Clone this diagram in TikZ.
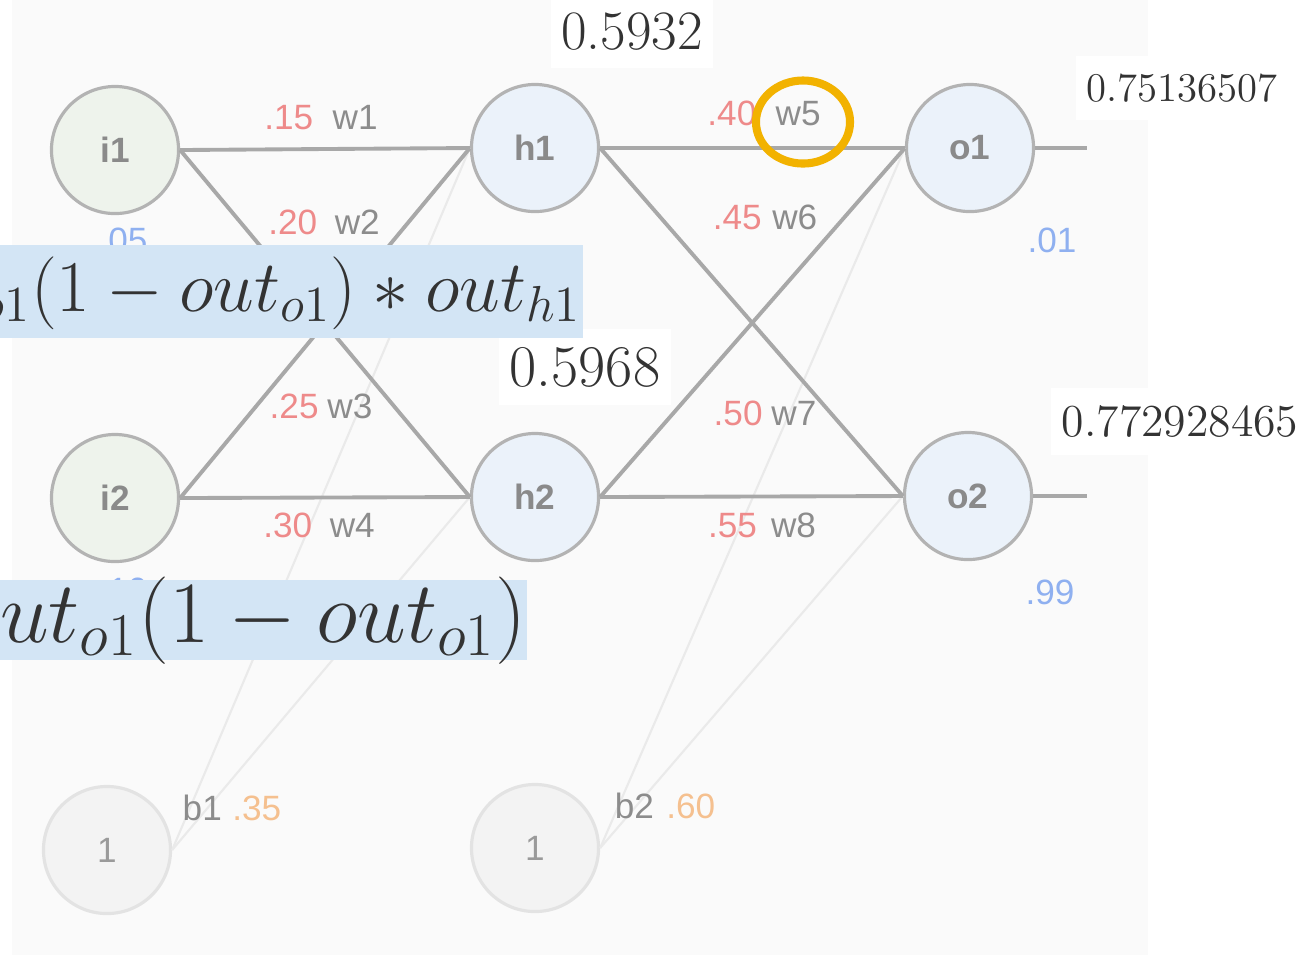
\documentclass[tikz,border=0pt]{standalone}
\usepackage{fontspec}
\newfontfamily\lab{Liberation Sans}
\usetikzlibrary{shapes.geometric}
\definecolor{panel}{HTML}{FAFAFA}
\definecolor{edgec}{HTML}{A8A8A8}
\definecolor{biasedge}{HTML}{EAEAEA}
\definecolor{finp}{HTML}{EEF3EC}
\definecolor{fhid}{HTML}{EBF2FA}
\definecolor{fbias}{HTML}{F3F3F3}
\definecolor{nline}{HTML}{B3B3B3}
\definecolor{bline}{HTML}{E3E3E3}
\definecolor{ntext}{HTML}{8A8A8A}
\definecolor{btext}{HTML}{9A9A9A}
\definecolor{wred}{HTML}{EE8A8A}
\definecolor{wgray}{HTML}{8C8C8C}
\definecolor{tblue}{HTML}{8FB0F0}
\definecolor{borange}{HTML}{F5C08F}
\definecolor{fboxc}{HTML}{D3E5F5}
\definecolor{ftext}{HTML}{333333}
\definecolor{amber}{HTML}{F2B200}
\tikzset{
  neuron/.style={circle, minimum size=1.27cm, inner sep=0pt, line width=0.9pt,
    font=\lab\bfseries\fontsize{10}{12}\selectfont, text=ntext},
  inp/.style={neuron, draw=nline, fill=finp},
  hid/.style={neuron, draw=nline, fill=fhid},
  biasn/.style={neuron, draw=bline, fill=fbias, font=\lab\fontsize{10}{12}\selectfont, text=btext},
  edge/.style={draw=edgec, line width=1.1pt},
  bedge/.style={draw=biasedge, line width=0.6pt},
  wlab/.style={inner sep=0pt, font=\lab\fontsize{10}{12}\selectfont, text=wgray},
  tlab/.style={inner sep=0pt, font=\lab\fontsize{10}{12}\selectfont, text=tblue},
  numlab/.style={fill=white, inner xsep=3pt, inner ysep=5pt, text=black!80},
  fml/.style={inner sep=0pt, text=ftext},
  ring/.style={ellipse, draw=amber, line width=2.3pt, minimum width=0.94cm, minimum height=0.83cm, inner sep=0pt}
}
\begin{document}
\begin{tikzpicture}[x=0.01cm,y=-0.01cm]
\useasboundingbox (0,0) rectangle (1307,959);
\fill[white] (0,0) rectangle (1307,959);
\fill[panel] (12,0) rectangle (1148,955);

% neuron positions
\coordinate (out1) at (1087,148);
\coordinate (out2) at (1087,496);
\path (115,150) node[inp] (i1) {i1}
      (115,498) node[inp] (i2) {i2}
      (535,148) node[hid] (h1) {h1}
      (535,497) node[hid] (h2) {h2}
      (970,148) node[hid] (o1) {o1}
      (968,496) node[hid] (o2) {o2}
      (107,850) node[biasn] (b1) {1}
      (535,848) node[biasn] (b2) {1};

% connectors
\draw[bedge] (b1.east) -- (h1.west);
\draw[bedge] (b1.east) -- (h2.west);
\draw[bedge] (b2.east) -- (o1.west);
\draw[bedge] (b2.east) -- (o2.west);
\draw[edge] (i1.east) -- (h1.west);
\draw[edge] (i1.east) -- (h2.west);
\draw[edge] (i2.east) -- (h1.west);
\draw[edge] (i2.east) -- (h2.west);
\draw[edge] (h1.east) -- (o1.west);
\draw[edge] (h1.east) -- (o2.west);
\draw[edge] (h2.east) -- (o1.west);
\draw[edge] (h2.east) -- (o2.west);
\draw[edge] (o1.east) -- (out1);
\draw[edge] (o2.east) -- (out2);

% weight labels
\node[wlab] (lw1) at (321,118) {\textcolor{wred}{.15}\hspace{0.55em}w1};
\node[wlab] (lw2) at (324,222) {\textcolor{wred}{.20}\hspace{0.5em}w2};
\node[wlab] (lw3) at (321,406) {\textcolor{wred}{.25}\hspace{0.25em}w3};
\node[wlab] (lw4) at (319,525) {\textcolor{wred}{.30}\hspace{0.5em}w4};
\node[wlab] (lw5) at (764,113) {\textcolor{wred}{.40}\hspace{0.55em}w5};
\node[wlab] (lw6) at (765,217) {\textcolor{wred}{.45}\hspace{0.3em}w6};
\node[wlab] (lw7) at (765,413) {\textcolor{wred}{.50}\hspace{0.25em}w7};
\node[wlab] (lw8) at (762,525) {\textcolor{wred}{.55}\hspace{0.4em}w8};
\node[wlab] (lb1) at (232,808) {b1\hspace{0.3em}\textcolor{borange}{.35}};
\node[wlab] (lb2) at (665,806) {b2\hspace{0.35em}\textcolor{borange}{.60}};

% target labels
\node[tlab] (t1) at (123,240) {.05};
\node[tlab] (t2) at (123,590) {.10};
\node[tlab] (t3) at (1052,240) {.01};
\node[tlab] (t4) at (1050,592) {.99};

% value labels
\node[numlab, font=\fontsize{15.8}{18}\selectfont] (v1) at (632,32) {0.5932};
\node[numlab, font=\fontsize{16.8}{19}\selectfont] (v2) at (585,367) {0.5968};
\node[numlab, font=\fontsize{11.6}{14}\selectfont] (v3) at (1182,88) {0.75136507};
\node[numlab, font=\fontsize{13}{15}\selectfont] (v4) at (1180,421) {0.772928465};

% formula boxes
\fill[fboxc] (0,245) rectangle (583,338);
\fill[fboxc] (0,580) rectangle (527,660);
\begin{scope}
\clip (0,0) rectangle (700,959);
\node[fml, font=\fontsize{20}{24}\selectfont, anchor=base east] (f1) at (582,311) {$out_{o1}(1-out_{o1})\ast out_{h1}$};
\node[fml, font=\fontsize{24}{29}\selectfont, anchor=base east] (f2) at (527,642) {$out_{o1}(1-out_{o1})$};
\end{scope}

% highlight ring
\node[ring] (r5) at (803,122) {};
\end{tikzpicture}
\end{document}
